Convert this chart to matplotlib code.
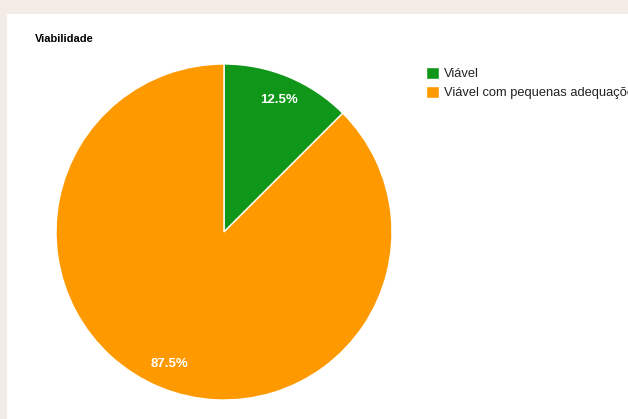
import matplotlib.pyplot as plt
from matplotlib.patches import Rectangle

plt.rcParams['font.family'] = ['Liberation Sans', 'DejaVu Sans']

title = 'Viabilidade'
categories = ['Viável', 'Viável com pequenas adequações']
values = [12.5, 87.5]
colors = ['#109618', '#ff9900']

W, H = 628, 419
fig = plt.figure(figsize=(W / 100, H / 100), dpi=100)
fig.patch.set_facecolor('#f2ebe6')
# white card behind everything
fig.patches.append(Rectangle((7 / W, 0), 1 - 7 / W, (H - 14) / H,
                             transform=fig.transFigure, facecolor='white',
                             edgecolor='none', zorder=-5))

cx, cy, r = 224, 232, 168
ax = fig.add_axes([(cx - r) / W, (H - cy - r) / H, 2 * r / W, 2 * r / H])
ax.set_zorder(2)
ax.patch.set_alpha(0)
wedges, texts, autotexts = ax.pie(
    values, colors=colors, startangle=90, counterclock=False,
    autopct='%.1f%%', pctdistance=0.85,
    wedgeprops=dict(edgecolor='white', linewidth=1),
    textprops=dict(color='white', fontsize=9.5, fontweight='semibold'))
ax.set_xlim(-1, 1)
ax.set_ylim(-1, 1)
ax.set_aspect('equal')
ax.axis('off')

fig.text(35 / W, 1 - 39 / H, title, fontsize=8, fontweight='bold',
         va='center', ha='left')

fig.legend(wedges, categories, loc='upper left',
           bbox_to_anchor=(414 / W, 1 - 55 / H), frameon=False,
           handlelength=1.05, handleheight=1.05, handletextpad=0.35,
           labelspacing=0.45, fontsize=9.3, labelcolor='#222222')

fig.savefig('out.png', dpi=100)
